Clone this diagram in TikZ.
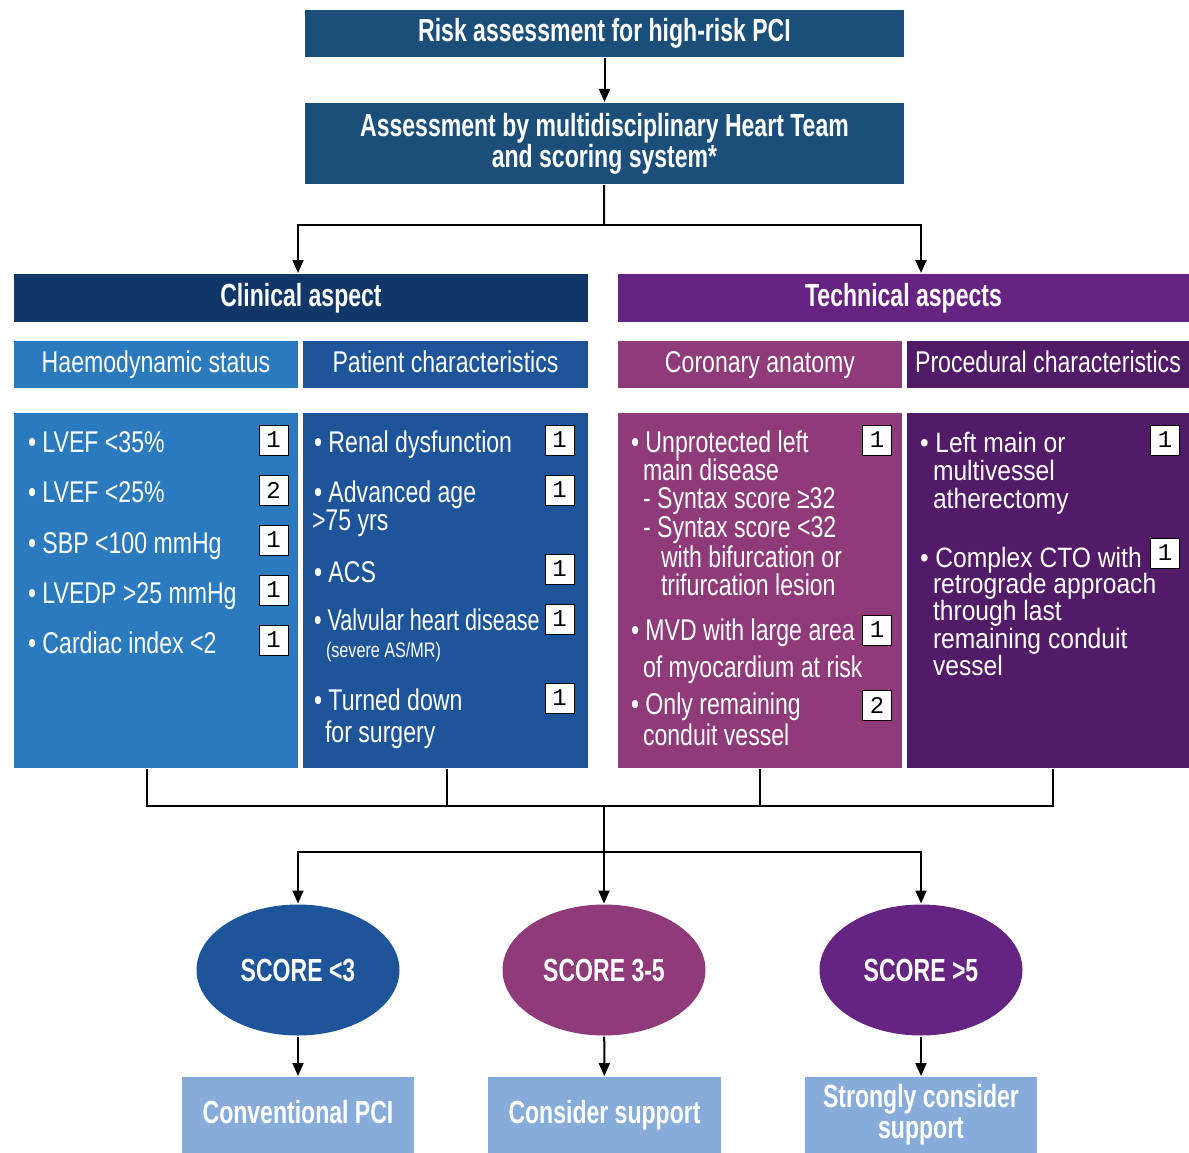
\documentclass[tikz,border=0pt]{standalone}
\usepackage{fontspec}
\setmainfont{Liberation Sans}[FakeStretch=0.77]
\newfontfamily\headfont{Liberation Sans}[FakeStretch=0.72]
\newfontfamily\procfont{Liberation Sans}[FakeStretch=0.88]
\setmonofont{Liberation Mono}
\usetikzlibrary{arrows.meta,shapes.geometric}
\definecolor{topblue}{RGB}{27, 79, 121}
\definecolor{clinnavy}{RGB}{16, 55, 103}
\definecolor{techpurple}{RGB}{102, 36, 130}
\definecolor{haemoblue}{RGB}{43, 122, 189}
\definecolor{patblue}{RGB}{29, 84, 154}
\definecolor{corplum}{RGB}{143, 58, 121}
\definecolor{procpurple}{RGB}{82, 27, 104}
\definecolor{resultblue}{RGB}{135, 172, 218}
\def\colw{284pt}
\def\subh{47pt}
\def\listh{355pt}

\begin{document}
\begin{tikzpicture}[x=1pt, y=-1pt, line width=2pt,
    arr/.style={-{Triangle[length=13pt, width=11pt]}},
    box/.style={rectangle, inner sep=0pt, text=white},
    head/.style={box, align=center, font=\headfont\bfseries\fontsize{32}{31}\selectfont},
    sub/.style={box, minimum width=\colw, minimum height=\subh, text height=22pt, text depth=6pt,
        font=\fontsize{30}{30}\selectfont},
    list/.style={box, minimum width=\colw, minimum height=\listh},
    item/.style={anchor=base west, inner sep=0pt, text=white, font=\fontsize{30}{30}\selectfont},
    pitem/.style={item, font=\procfont\fontsize{28}{28}\selectfont},
    pts/.style={draw=black, fill=white, line width=0.9pt, minimum width=29pt, minimum height=30pt,
        inner sep=0pt, font=\ttfamily\fontsize{24}{24}\selectfont},
    score/.style={ellipse, inner sep=0pt, minimum width=203pt, minimum height=131pt, text=white,
        font=\headfont\bfseries\fontsize{32}{31}\selectfont},
    result/.style={head, fill=resultblue, minimum width=232pt, minimum height=76pt},
    oneline/.style={text height=23pt, text depth=7pt}]

    \useasboundingbox (0, 0) rectangle (1189, 1153);

    \node[head, oneline, fill=topblue, minimum width=599pt, minimum height=47pt] (risk) at (604.5, 33.5)
        {Risk assessment for high-risk PCI};
    \node[head, fill=topblue, minimum width=599pt, minimum height=81pt] (assess) at (604.5, 143.5)
        {Assessment by multidisciplinary Heart Team\\and scoring system*};

    \node[head, oneline, fill=clinnavy, minimum width=574pt, minimum height=48pt] (clin) at (301, 298)
        {Clinical aspect};
    \node[head, oneline, fill=techpurple, minimum width=571pt, minimum height=48pt] (tech) at (903.5, 298)
        {Technical aspects};

    \node[sub, fill=haemoblue] (hsub) at (156, 364.5) {Haemodynamic status};
    \node[sub, fill=patblue, minimum width=285pt] (psub) at (445.5, 364.5) {Patient characteristics};
    \node[sub, fill=corplum] (csub) at (760, 364.5) {Coronary anatomy};
    \node[sub, fill=procpurple, minimum width=282pt] (rsub) at (1048, 364.5) {Procedural characteristics};

    \node[list, fill=haemoblue] (hbox) at (156, 590.5) {};
    \node[list, fill=patblue, minimum width=285pt] (pbox) at (445.5, 590.5) {};
    \node[list, fill=corplum] (cbox) at (760, 590.5) {};
    \node[list, fill=procpurple, minimum width=282pt] (rbox) at (1048, 590.5) {};

    \node[item] (h1) at (27, 452) {\textbullet{} LVEF <35\%};
    \node[item] (h2) at (27, 502) {\textbullet{} LVEF <25\%};
    \node[item] (h3) at (27, 553) {\textbullet{} SBP <100 mmHg};
    \node[item] (h4) at (27, 603) {\textbullet{} LVEDP >25 mmHg};
    \node[item] (h5) at (27, 653) {\textbullet{} Cardiac index <2};
    \node[pts] (hs1) at (273.5, 440) {1};
    \node[pts] (hs2) at (273.5, 490) {2};
    \node[pts] (hs3) at (273.5, 540) {1};
    \node[pts] (hs4) at (273.5, 590) {1};
    \node[pts] (hs5) at (273.5, 640) {1};

    \node[item] (p1) at (313, 452) {\textbullet{} Renal dysfunction};
    \node[item] (p2) at (313, 502) {\textbullet{} Advanced age};
    \node[item] (p3) at (311, 530) {>75 yrs};
    \node[item] (p4) at (313, 582) {\textbullet{} ACS};
    \node[item, font=\headfont\fontsize{30}{30}\selectfont] (p5) at (313, 630) {\textbullet{} Valvular heart disease};
    \node[item, font=\fontsize{21}{21}\selectfont] (p6) at (325, 657) {(severe AS/MR)};
    \node[item] (p7) at (313, 710) {\textbullet{} Turned down};
    \node[item] (p8) at (324, 742) {for surgery};
    \node[pts] (ps1) at (559.5, 440) {1};
    \node[pts] (ps2) at (559.5, 490) {1};
    \node[pts] (ps3) at (559.5, 569) {1};
    \node[pts] (ps4) at (559.5, 619) {1};
    \node[pts] (ps5) at (559.5, 698) {1};

    \node[item] (c1) at (630, 452) {\textbullet{} Unprotected left};
    \node[item] (c2) at (642, 480) {main disease};
    \node[item] (c3) at (642, 508) {- Syntax score ≥32};
    \node[item] (c4) at (642, 537) {- Syntax score <32};
    \node[item] (c5) at (660, 567) {with bifurcation or};
    \node[item] (c6) at (660, 595) {trifurcation lesion};
    \node[item] (c7) at (630, 640) {\textbullet{} MVD with large area};
    \node[item] (c8) at (642, 677) {of myocardium at risk};
    \node[item] (c9) at (630, 714) {\textbullet{} Only remaining};
    \node[item] (c10) at (642, 745) {conduit vessel};
    \node[pts] (cs1) at (877, 440) {1};
    \node[pts] (cs2) at (877, 630) {1};
    \node[pts] (cs3) at (877, 705) {2};

    \node[pitem] (r1) at (919, 452) {\textbullet{} Left main or};
    \node[pitem] (r2) at (932, 480) {multivessel};
    \node[pitem] (r3) at (932, 508) {atherectomy};
    \node[pitem] (r4) at (919, 567) {\textbullet{} Complex CTO with};
    \node[pitem] (r5) at (932, 593) {retrograde approach};
    \node[pitem] (r6) at (932, 620) {through last};
    \node[pitem] (r7) at (932, 648) {remaining conduit};
    \node[pitem] (r8) at (932, 675) {vessel};
    \node[pts] (rs1) at (1165, 440) {1};
    \node[pts] (rs2) at (1165, 553) {1};

    \node[score, fill=patblue] (sc1) at (298, 970) {SCORE <3};
    \node[score, fill=corplum] (sc2) at (604, 970) {SCORE 3-5};
    \node[score, fill=techpurple] (sc3) at (921, 970) {SCORE >5};

    \node[result, oneline] (res1) at (298, 1115) {Conventional PCI};
    \node[result, oneline, minimum width=233pt] (res2) at (604.5, 1115) {Consider support};
    \node[result] (res3) at (921, 1115) {Strongly consider\\support};

    \coordinate (split) at (604, 225);
    \coordinate (join) at (604, 806);
    \coordinate (fork) at (604, 852);

    \draw[arr] (risk) -- (assess);
    \draw (assess) -- (split);
    \draw[arr] (split) -| (sc1 |- clin.north);
    \draw[arr] (split) -| (sc3 |- tech.north);

    \draw ([xshift=-9pt]hbox.south) |- (join) -| ([xshift=5pt]rbox.south);
    \draw ([xshift=1.5pt]pbox.south) -- ([xshift=1.5pt]pbox.south |- join);
    \draw (cbox.south) -- (cbox.south |- join);
    \draw (join) -- (fork);
    \draw[arr] (fork) -| (sc1);
    \draw[arr] (fork) -- (sc2);
    \draw[arr] (fork) -| (sc3);

    \draw[arr] (sc1) -- (res1);
    \draw[arr] (sc2) -- (res2);
    \draw[arr] (sc3) -- (res3);

\end{tikzpicture}
\end{document}
